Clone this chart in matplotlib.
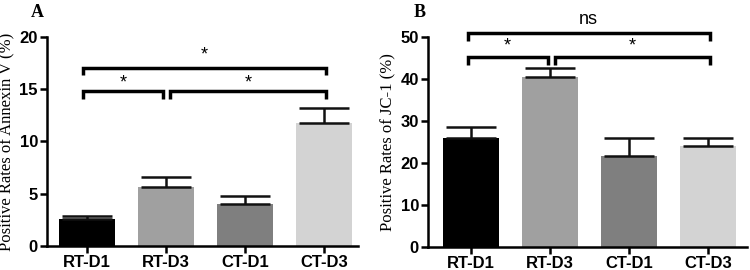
import numpy as np
import matplotlib.pyplot as plt

groups = ['RT-D1', 'RT-D3', 'CT-D1', 'CT-D3']
colors = ['#000000', '#a0a0a0', '#7f7f7f', '#d3d3d3']

annexin = [2.58, 5.65, 3.99, 11.74]
annexin_err = [0.32, 0.98, 0.83, 1.50]
jc1 = [26.0, 40.4, 21.7, 24.0]
jc1_err = [2.6, 2.3, 4.3, 1.9]

# (x1, x2, y, tip y, label, label y)
brackets_a = [(-0.05, 0.955, 14.83, 14.07, '*', 15.6),
              (1.05, 3.02, 14.83, 14.07, '*', 15.6),
              (-0.05, 3.02, 17.03, 16.36, '*', 18.3)]
brackets_b = [(-0.04, 0.97, 45.2, 43.3, '*', 47.8),
              (1.06, 3.02, 45.2, 43.3, '*', 47.8),
              (-0.04, 3.02, 50.95, 49.1, 'ns', 54.2)]

tick_font = dict(family='Liberation Sans', weight='bold', size=12)

fig = plt.figure(figsize=(7.5, 2.7), dpi=100)


def panel(rect, vals, errs, ylim, yticks, xlim, ylabel, brackets, letter, letter_x):
    ax = fig.add_axes(rect)
    x = np.arange(len(groups))
    ax.bar(x, vals, width=0.71, color=colors, zorder=2)
    ax.errorbar(x, vals, yerr=[np.zeros(len(errs)), errs], fmt='none',
                ecolor='#111111', elinewidth=1.8, capsize=18, capthick=1.8, zorder=3)
    ax.set_xlim(*xlim)
    ax.set_ylim(*ylim)
    ax.set_yticks(yticks)
    ax.set_xticks(x)
    ax.set_xticklabels(groups, fontdict=tick_font)
    ax.set_yticklabels([str(t) for t in yticks], fontdict=tick_font)
    for s in ['top', 'right']:
        ax.spines[s].set_visible(False)
    for s in ['left', 'bottom']:
        ax.spines[s].set_linewidth(1.8)
    ax.tick_params(width=1.8, length=5, pad=1.5)
    ax.set_ylabel(ylabel, family='Liberation Serif', size=12, labelpad=3)
    for x1, x2, y, tip, lab, ly in brackets:
        ax.plot([x1, x1, x2, x2], [tip, y, y, tip], color='black',
                lw=2.5, clip_on=False, solid_joinstyle='miter', solid_capstyle='butt')
        if lab == 'ns':
            ax.text((x1 + x2) / 2, ly, lab, ha='center', va='center',
                    family='Liberation Sans', size=13, clip_on=False)
        else:
            ax.text((x1 + x2) / 2, ly, lab, ha='center', va='center',
                    family='Liberation Sans', size=13, clip_on=False)
    fig.text(letter_x, 0.985, letter, family='Liberation Serif', weight='bold',
             size=13, ha='left', va='top')
    return ax


panel([0.0627, 0.0889, 0.4146, 0.7741], annexin, annexin_err, (0, 20), [0, 5, 10, 15, 20],
      (-0.51, 3.43), 'Positive Rates of Annexin V (%)', brackets_a, 'A', 0.041)
panel([0.5707, 0.0852, 0.4253, 0.7778], jc1, jc1_err, (0, 50), [0, 10, 20, 30, 40, 50],
      (-0.54, 3.49), 'Positive Rates of JC-1 (%)', brackets_b, 'B', 0.551)

fig.savefig('out.png', dpi=100)
